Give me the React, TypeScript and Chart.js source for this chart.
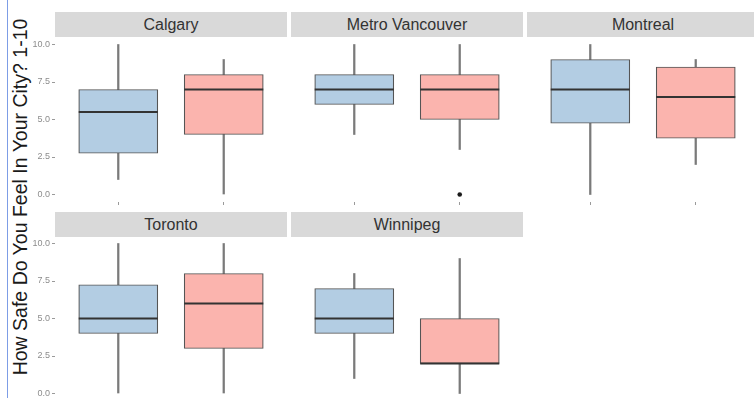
import React, { useEffect, useRef } from 'react';
import { Chart, registerables } from 'chart.js';

Chart.register(...registerables);

// ---------- data ----------
const cities = ['Calgary', 'Metro Vancouver', 'Montreal', 'Toronto', 'Winnipeg'];
const groupPositions = [1, 2];
// per city: [blue group, pink group]
const whiskerLow = [[1, 0], [4, 3], [0, 2], [0, 0], [1, 0]];
const q1 = [[2.75, 4], [6, 5], [4.75, 3.75], [4, 3], [4, 2]];
const median = [[5.5, 7], [7, 7], [7, 6.5], [5, 6], [5, 2]];
const q3 = [[7, 8], [8, 8], [9, 8.5], [7.25, 8], [7, 5]];
const whiskerHigh = [[10, 9], [10, 10], [10, 9], [10, 10], [8, 9]];
const outliers = [[[], []], [[], [0]], [[], []], [[], []], [[], []]];
const yTicks = [0, 2.5, 5, 7.5, 10];
const yTitle = 'How Safe Do You Feel In Your City? 1-10';

// ---------- styles ----------
const boxColors = ['#b3cde3', '#fbb4ae'];
const FONT = '"Liberation Sans", Arial, Helvetica, sans-serif';
const PANEL_W = 232;
const PLOT_H = 165;
const AXIS_H = 4;
const YAXIS_W = 40;
const STRIP_H = 25;
const X_MIN = 0.4;
const X_MAX = 2.6;
const BOX_WIDTH = 0.75; // in category units
const colLeft = [55, 291, 527];
const stripTop = [12, 212];
const plotTop = [37, 236];

export default function App() {
  const refs = useRef<(HTMLCanvasElement | null)[]>([]);

  useEffect(() => {
    const charts: Chart[] = [];
    const boxPx = (PANEL_W / (X_MAX - X_MIN)) * BOX_WIDTH;
    cities.forEach((city, i) => {
      const canvas = refs.current[i];
      if (!canvas) return;
      const col = i % 3;
      const showY = col === 0;
      const medPlugin = {
        id: 'medianLines' + i,
        afterDatasetsDraw(chart: any) {
          const meta = chart.getDatasetMeta(0);
          const ys = chart.scales.y;
          const ctx = chart.ctx;
          ctx.save();
          ctx.strokeStyle = '#333333';
          ctx.lineWidth = 2.2;
          meta.data.forEach((el: any, k: number) => {
            const py = ys.getPixelForValue(median[i][k]);
            ctx.beginPath();
            ctx.moveTo(el.x - el.width / 2, py);
            ctx.lineTo(el.x + el.width / 2, py);
            ctx.stroke();
          });
          ctx.restore();
        },
      };
      const outlierPts: { x: number; y: number }[] = [];
      outliers[i].forEach((vals, k) => vals.forEach((v) => outlierPts.push({ x: groupPositions[k], y: v })));

      const chart = new Chart(canvas, {
        type: 'bar',
        data: {
          datasets: [
            {
              label: 'box',
              data: groupPositions.map((x, k) => ({ x, y: [q1[i][k], q3[i][k]] })) as any,
              backgroundColor: boxColors,
              borderColor: '#555555',
              borderWidth: 1.2,
              borderSkipped: false,
              grouped: false,
              barThickness: boxPx,
            } as any,
            {
              label: 'whisker',
              data: groupPositions.map((x, k) => ({ x, y: [whiskerLow[i][k], whiskerHigh[i][k]] })) as any,
              backgroundColor: '#7a7a7a',
              borderWidth: 0,
              grouped: false,
              barThickness: 1.6,
            } as any,
            {
              type: 'scatter',
              label: 'outliers',
              data: outlierPts,
              backgroundColor: '#1a1a1a',
              borderWidth: 0,
              pointRadius: 2.3,
            } as any,
          ],
        },
        options: {
          responsive: false,
          animation: false,
          events: [],
          layout: { padding: 0, autoPadding: false },
          plugins: { legend: { display: false }, tooltip: { enabled: false } },
          scales: {
            x: {
              type: 'linear',
              offset: false,
              bounds: 'data',
              min: X_MIN,
              max: X_MAX,
              afterBuildTicks: (s: any) => {
                s.ticks = groupPositions.map((v) => ({ value: v }));
              },
              afterFit: (s: any) => {
                s.height = AXIS_H;
                s.paddingLeft = 0;
                s.paddingRight = 0;
                s.paddingTop = 0;
                s.paddingBottom = 0;
              },
              ticks: { display: false },
              grid: { offset: false, drawOnChartArea: false, drawTicks: true, tickLength: 3, color: '#9a9a9a' },
              border: { display: false },
            },
            y: {
              type: 'linear',
              display: showY,
              beginAtZero: false,
              bounds: 'data',
              min: -0.5,
              max: 10.5,
              afterBuildTicks: (s: any) => {
                s.ticks = yTicks.map((v) => ({ value: v }));
              },
              afterFit: (s: any) => {
                s.width = showY ? YAXIS_W : 0;
                s.paddingTop = 0;
                s.paddingBottom = 0;
                s.paddingLeft = 0;
                s.paddingRight = 0;
              },
              ticks: {
                display: showY,
                padding: 2,
                color: '#8c8c8c',
                font: { size: 9, family: FONT },
                callback: (v: any) => Number(v).toFixed(1),
              },
              grid: { drawOnChartArea: false, drawTicks: true, tickLength: 3, color: '#9a9a9a' },
              border: { display: false },
            },
          },
        } as any,
        plugins: [medPlugin],
      });
      charts.push(chart);
    });
    return () => charts.forEach((c) => c.destroy());
  }, []);

  return (
    <div
      style={{
        position: 'fixed',
        left: 0,
        top: 0,
        width: 754,
        height: 398,
        overflow: 'hidden',
        background: '#ffffff',
        fontFamily: FONT,
      }}
    >
      <div style={{ position: 'absolute', left: 7, top: 0, width: 1, height: 398, background: '#7d9de6' }} />
      <div
        style={{
          position: 'absolute',
          left: 20 - 200,
          top: 197 - 12,
          width: 400,
          height: 24,
          lineHeight: '24px',
          textAlign: 'center',
          fontSize: 19.5,
          color: '#1a1a1a',
          transform: 'rotate(-90deg)',
          whiteSpace: 'nowrap',
        }}
      >
        {yTitle}
      </div>
      {cities.map((city, i) => {
        const col = i % 3;
        const row = Math.floor(i / 3);
        const left = col === 0 ? colLeft[col] - YAXIS_W : colLeft[col];
        const width = col === 0 ? PANEL_W + YAXIS_W : PANEL_W;
        return (
          <React.Fragment key={city}>
            <div
              style={{
                position: 'absolute',
                left: colLeft[col],
                top: stripTop[row],
                width: PANEL_W,
                height: STRIP_H,
                background: '#d9d9d9',
                color: '#333333',
                fontSize: 16,
                lineHeight: STRIP_H + 'px',
                textAlign: 'center',
                whiteSpace: 'nowrap',
              }}
            >
              {city}
            </div>
            <canvas
              ref={(el) => {
                refs.current[i] = el;
              }}
              width={width}
              height={PLOT_H + AXIS_H}
              style={{ position: 'absolute', left, top: plotTop[row], width, height: PLOT_H + AXIS_H }}
            />
          </React.Fragment>
        );
      })}
    </div>
  );
}
